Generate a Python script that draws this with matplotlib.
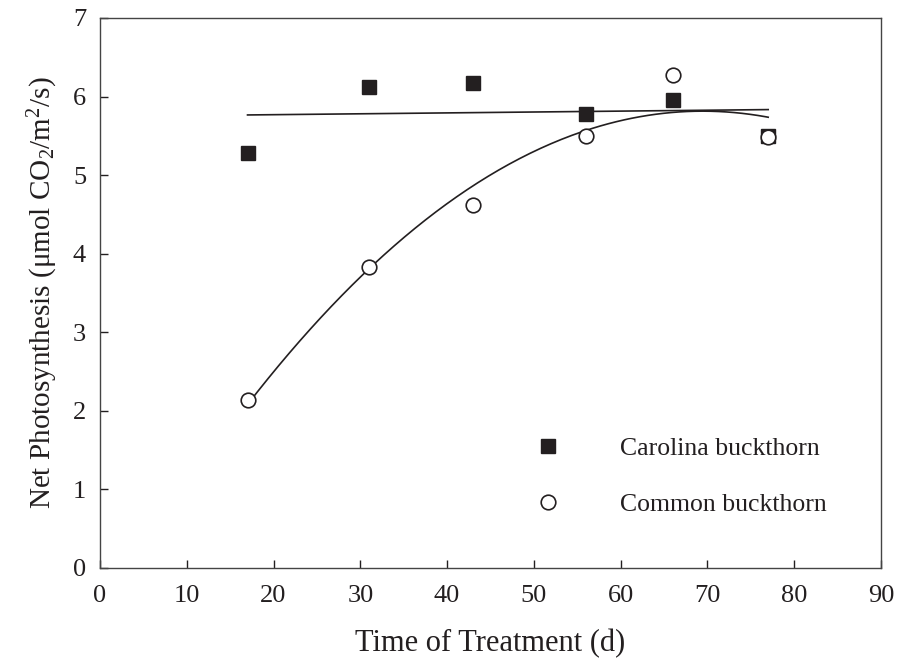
import numpy as np
import matplotlib
matplotlib.use("Agg")
import matplotlib.pyplot as plt

plt.rcParams['font.family'] = ['Liberation Serif', 'DejaVu Serif']
plt.rcParams['mathtext.fontset'] = 'custom'
plt.rcParams['mathtext.rm'] = 'Liberation Serif'
plt.rcParams['mathtext.it'] = 'Liberation Serif:italic'

days = [17, 31, 43, 56, 66, 77]
carolina = [5.28, 6.12, 6.17, 5.78, 5.96, 5.50]
common = [2.14, 3.83, 4.62, 5.50, 6.28, 5.49]
xticks = list(range(0, 91, 10))
yticks = list(range(0, 8))

ink = '#231f20'

fig = plt.figure(figsize=(9.13, 6.62), dpi=100)
ax = fig.add_axes([100/913, 94/662, 781/913, 550/662])

xs = np.linspace(min(days), max(days), 200)
lin = np.polyfit(days, carolina, 1)
quad = np.polyfit(days, common, 2)
ax.plot(xs, np.polyval(lin, xs), color=ink, lw=1.2, zorder=2)
ax.plot(xs, np.polyval(quad, xs), color=ink, lw=1.2, zorder=2)

ax.plot(days, carolina, 's', color=ink, ms=9.5, ls='none', zorder=3, label='Carolina buckthorn')
ax.plot(days, common, 'o', mfc='white', mec=ink, mew=1.2, ms=10.5, ls='none', zorder=4, label='Common buckthorn')

ax.set_xlim(0, 90)
ax.set_ylim(0, 7)
ax.set_xticks(xticks)
ax.set_yticks(yticks)
ax.tick_params(direction='in', length=6, width=1, colors=ink, labelsize=19)
ax.tick_params(axis='x', pad=12)
ax.tick_params(axis='y', pad=10)
for s in ax.spines.values():
    s.set_color('#444')
    s.set_linewidth(1.0)

ax.set_xlabel('Time of Treatment (d)', fontsize=22, color=ink, labelpad=16)
ax.set_ylabel('Net Photosynthesis (μmol CO$_2$/m$^2$/s)', fontsize=21, color=ink, labelpad=9)

leg = ax.legend(loc='lower left', bbox_to_anchor=(0.528, 0.052), frameon=False, fontsize=18.5,
                handletextpad=2.3, labelspacing=1.3, handlelength=1.0)
for t in leg.get_texts():
    t.set_color(ink)

fig.savefig('out.png', dpi=100)
